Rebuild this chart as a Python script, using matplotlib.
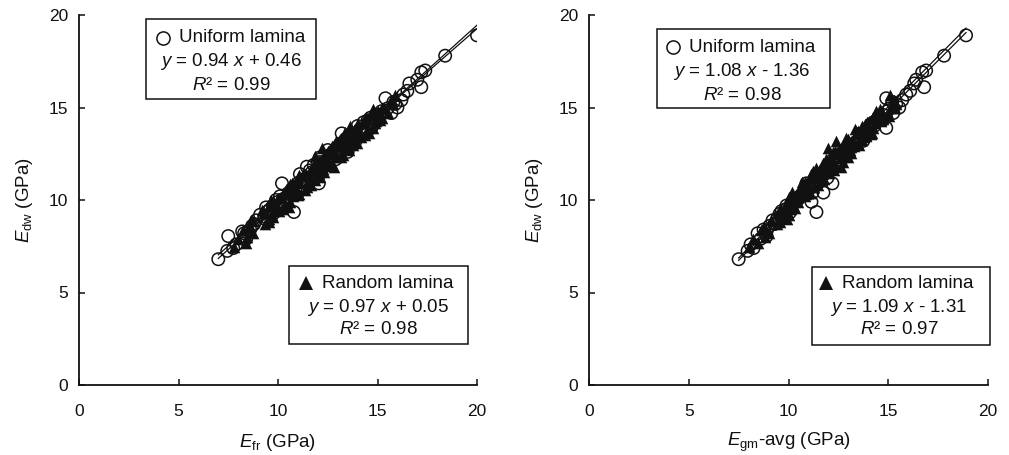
import matplotlib
matplotlib.use("Agg")
import matplotlib.pyplot as plt
from matplotlib.patches import Rectangle
from matplotlib.lines import Line2D
import numpy as np

plt.rcParams['font.family'] = ['Liberation Sans', 'DejaVu Sans']
plt.rcParams['mathtext.fontset'] = 'custom'
plt.rcParams['mathtext.rm'] = 'Liberation Sans'
plt.rcParams['mathtext.it'] = 'Liberation Sans:italic'

# ---------------- data ----------------
# Uniform lamina specimens
edw_uniform = [6.80, 8.05, 7.40, 7.90, 7.25, 7.60, 8.20, 8.90, 8.70, 9.20,
               9.00, 9.40, 9.30, 9.70, 9.90, 10.10, 10.90, 9.35, 10.30, 10.60,
               10.40, 10.80, 11.10, 10.90, 11.80, 11.50, 11.20, 11.70, 12.00, 12.30,
               12.50, 12.20, 12.60, 12.90, 13.10, 13.30, 13.50, 13.20, 13.70, 14.00,
               14.20, 13.90, 14.40, 14.60, 14.80, 14.70, 15.50, 15.20, 15.00, 15.40,
               15.90, 16.10, 16.30, 16.90, 17.00, 17.80, 18.90, 10.00, 9.60, 11.40,
               12.70, 13.60, 8.40, 9.80, 10.20, 11.90, 14.30, 12.40, 10.70, 11.60,
               13.80, 10.40, 9.90, 14.10, 12.80,
               8.60, 9.10, 9.50, 10.05, 10.45, 10.95, 11.25, 11.55, 12.05, 12.35,
               12.85, 13.15, 13.45, 13.95, 14.45, 14.95, 15.30, 11.00, 12.15, 13.40,
               10.75, 9.25, 11.35, 12.65, 14.15, 8.30, 15.70, 16.50, 11.90, 13.00]
efr_uniform = [7.00, 7.50, 7.75, 8.40, 7.45, 7.90, 8.30, 8.90, 8.80, 9.10,
               9.30, 9.50, 9.80, 9.75, 10.00, 10.40, 10.20, 10.80, 10.60, 10.70,
               11.00, 11.20, 11.30, 12.05, 11.45, 11.70, 11.90, 12.20, 12.30, 12.10,
               12.70, 12.90, 13.50, 13.20, 13.60, 13.40, 13.80, 13.90, 14.20, 14.00,
               14.30, 14.70, 14.80, 15.00, 15.20, 15.70, 15.40, 15.90, 16.00, 16.20,
               16.50, 17.20, 16.60, 17.20, 17.40, 18.40, 20.00, 9.90, 9.40, 11.10,
               12.50, 13.20, 8.60, 10.30, 10.10, 12.40, 14.50, 12.60, 10.90, 11.60,
               14.10, 10.55, 10.25, 14.60, 13.00,
               8.70, 9.35, 9.60, 10.25, 10.75, 11.05, 11.60, 11.95, 12.10, 12.75,
               13.35, 13.30, 14.00, 14.40, 14.65, 15.50, 15.80, 11.50, 12.45, 13.70,
               11.15, 9.60, 11.80, 12.95, 14.50, 8.20, 16.30, 17.00, 11.80, 13.10]
egm_uniform = [7.50, 8.90, 8.25, 8.60, 7.95, 8.10, 8.45, 9.20, 9.30, 9.70,
               9.45, 9.65, 10.05, 9.90, 10.35, 10.45, 10.90, 11.40, 10.65, 11.05,
               11.20, 11.30, 11.40, 12.20, 12.05, 11.85, 11.95, 12.15, 12.40, 12.45,
               12.75, 12.60, 13.00, 13.10, 13.35, 13.55, 13.80, 13.75, 13.90, 14.30,
               14.25, 14.90, 14.60, 14.75, 14.95, 15.25, 14.90, 15.40, 15.55, 15.70,
               16.10, 16.80, 16.30, 16.70, 16.90, 17.80, 18.90, 10.25, 10.15, 11.75,
               12.85, 13.70, 8.75, 10.15, 10.60, 12.30, 14.45, 12.90, 11.00, 11.90,
               14.05, 11.75, 11.15, 14.15, 12.95,
               9.05, 9.60, 9.85, 10.50, 10.85, 11.30, 11.60, 11.80, 12.55, 12.70,
               13.00, 13.40, 13.70, 14.05, 14.50, 15.05, 15.20, 11.60, 12.20, 13.60,
               11.20, 9.55, 11.50, 12.75, 14.30, 8.90, 15.90, 16.40, 12.45, 13.25]

# Random lamina specimens
edw_random = [7.45, 7.70, 7.90, 8.20, 8.50, 8.70, 8.90, 9.10, 9.30, 9.50,
              9.70, 9.90, 10.10, 10.30, 10.50, 10.70, 10.90, 11.10, 11.30, 11.50,
              11.70, 11.90, 12.10, 12.30, 12.50, 12.70, 12.90, 13.10, 13.30, 13.50,
              13.70, 13.90, 14.10, 14.30, 14.50, 14.70, 14.90, 15.70, 15.20, 13.20,
              12.80, 14.00, 11.80, 10.60, 9.60, 12.40, 13.60, 11.00, 10.20, 12.00,
              14.40, 11.40, 9.00, 8.40, 13.00, 12.60, 10.80, 14.80, 11.60, 12.20,
              13.40, 10.00, 9.40, 11.20, 12.90, 14.20, 15.00, 13.80,
              8.00, 8.60, 9.20, 9.80, 10.40, 10.95, 11.45, 11.95, 12.45, 12.95,
              13.45, 13.95, 14.45, 12.15, 11.65, 10.15, 9.55, 10.65, 11.25, 12.75,
              13.25, 13.75, 14.25, 14.65, 15.40, 11.85, 10.85, 12.35, 13.65, 9.75,
              11.55, 12.05, 13.15, 14.55, 10.45, 8.80, 12.65, 11.15, 13.85, 14.95,
              12.55, 11.35, 10.55, 13.35, 14.15, 9.45, 12.85, 11.75, 10.25, 13.55]
efr_random = [7.80, 8.40, 8.00, 8.75, 8.50, 9.35, 8.70, 9.75, 9.30, 10.25,
              9.55, 10.60, 10.00, 11.05, 10.40, 11.45, 10.70, 11.85, 11.20, 12.30,
              11.65, 12.70, 12.05, 13.15, 12.40, 13.55, 12.70, 13.95, 13.20, 14.35,
              13.50, 14.75, 14.00, 15.15, 14.40, 15.55, 14.75, 15.90, 15.80, 12.90,
              12.20, 13.60, 12.80, 10.80, 10.55, 11.85, 14.55, 11.05, 10.75, 12.25,
              14.95, 11.35, 9.55, 8.25, 13.75, 12.75, 11.65, 15.05, 12.15, 12.35,
              14.15, 9.65, 10.05, 11.00, 13.30, 14.35, 15.25, 14.45,
              8.45, 8.60, 9.70, 9.75, 10.90, 11.00, 12.05, 11.85, 13.25, 12.90,
              14.10, 13.90, 15.25, 12.15, 12.25, 10.15, 10.00, 10.55, 12.10, 12.60,
              13.80, 13.70, 14.90, 14.65, 15.70, 12.45, 10.60, 12.90, 13.35, 10.40,
              11.70, 12.50, 12.95, 14.95, 10.50, 9.55, 12.50, 11.60, 13.95, 15.35,
              12.80, 11.05, 11.35, 13.50, 14.85, 9.20, 13.50, 11.90, 11.00, 14.00]
egm_random = [8.00, 8.45, 8.20, 9.00, 8.75, 9.40, 9.10, 9.75, 9.45, 10.15,
              9.80, 10.50, 10.25, 10.90, 10.55, 11.30, 10.95, 11.70, 11.25, 11.95,
              11.60, 12.35, 11.95, 12.70, 12.30, 13.10, 12.80, 13.50, 13.00, 13.90,
              13.45, 14.25, 13.85, 14.65, 14.25, 15.00, 14.60, 15.10, 15.40, 12.40,
              12.00, 13.70, 12.65, 10.80, 10.30, 12.15, 14.20, 10.70, 10.85, 11.75,
              14.75, 11.15, 9.90, 8.60, 13.55, 12.25, 11.50, 14.40, 12.30, 11.90,
              13.75, 10.15, 9.90, 11.35, 13.30, 13.95, 15.35, 13.70,
              8.80, 8.75, 10.00, 9.85, 11.10, 10.85, 12.05, 11.85, 12.70, 12.75,
              13.90, 13.80, 14.75, 12.10, 12.10, 10.05, 10.35, 10.75, 11.70, 12.60,
              13.70, 13.50, 14.65, 14.50, 15.30, 12.15, 10.70, 13.00, 13.65, 10.25,
              11.25, 12.75, 13.20, 15.05, 10.20, 9.55, 12.35, 11.80, 13.35, 15.15,
              13.15, 11.40, 11.00, 12.90, 14.35, 9.60, 13.15, 11.40, 10.60, 14.15]

# regression coefficients (slope, intercept, R2)
fit_fr_uniform = (0.94, 0.46, 0.99)
fit_fr_random = (0.97, 0.05, 0.98)
fit_gm_uniform = (1.08, -1.36, 0.98)
fit_gm_random = (1.09, -1.31, 0.97)

ticks = [0, 5, 10, 15, 20]

# ---------------- figure ----------------
W, H = 1009, 455
fig = plt.figure(figsize=(W / 100, H / 100), dpi=100)

def fx(px):
    return px / W

def fy(py):
    return 1 - py / H

ax1 = fig.add_axes([fx(79), fy(385), (477 - 79) / W, (385 - 15) / H])
ax2 = fig.add_axes([fx(589), fy(385), (988 - 589) / W, (385 - 15) / H])

def eq_text(slope, intercept):
    sign = '+' if intercept >= 0 else '-'
    return r'$y$ = %.2f $x$ %s %.2f' % (slope, sign, abs(intercept))

panels = [
    (ax1, efr_uniform, efr_random, fit_fr_uniform, fit_fr_random,
     r'$E_{\mathrm{fr}}$ (GPa)'),
    (ax2, egm_uniform, egm_random, fit_gm_uniform, fit_gm_random,
     r'$E_{\mathrm{gm}}$-avg (GPa)'),
]

INK = '#111111'
for ax, xu, xr, fu, fr, xlabel in panels:
    ax.scatter(xu, edw_uniform, s=80, marker='o', facecolors='none',
               edgecolors=INK, linewidths=1.1, zorder=2)
    ax.scatter(xr, edw_random, s=70, marker='^', color=INK,
               linewidths=0, zorder=3)
    allx = np.array(list(xu) + list(xr))
    xs = np.array([allx.min(), allx.max()])
    for f in (fu, fr):
        ax.plot(xs, f[0] * xs + f[1], color=INK, lw=0.9, zorder=4)

    ax.set_xlim(0, 20)
    ax.set_ylim(0, 20)
    ax.set_xticks(ticks)
    ax.set_yticks(ticks)
    for s in ('top', 'right'):
        ax.spines[s].set_visible(False)
    for s in ('left', 'bottom'):
        ax.spines[s].set_linewidth(1.3)
        ax.spines[s].set_color(INK)
    ax.tick_params(direction='in', length=4, width=1.1, labelsize=12.5,
                   colors=INK)
    ax.tick_params(axis='x', pad=14)
    ax.tick_params(axis='y', pad=8)
    ax.set_xlabel(xlabel, fontsize=13.5, color=INK, va='center')
    ax.set_ylabel(r'$E_{\mathrm{dw}}$ (GPa)', fontsize=13.5, color=INK)
    ax.xaxis.set_label_coords(0.5, -0.155)
    ax.yaxis.set_label_coords(-0.11, 0.5)

# annotation boxes (pixel layout)
boxes = [
    # (box x0, y0, x1, y1, marker x, line y's, center x, marker, title, fit)
    (146, 19, 316, 99, 163, (38, 62, 85), 231, 'o', 'Uniform lamina', fit_fr_uniform),
    (289, 266, 468, 344, 306, (284, 308, 330), 378, '^', 'Random lamina', fit_fr_random),
    (657, 29, 830, 108, 673, (47, 72, 95), 742, 'o', 'Uniform lamina', fit_gm_uniform),
    (812, 267, 990, 345, 826, (284, 308, 330), 899, '^', 'Random lamina', fit_gm_random),
]
for x0, y0, x1, y1, mx, ly, cx, mk, title, fit in boxes:
    fig.patches.append(Rectangle((fx(x0), fy(y1)), (x1 - x0) / W, (y1 - y0) / H,
                                 transform=fig.transFigure, fill=False,
                                 edgecolor=INK, lw=1.1))
    if mk == 'o':
        m = Line2D([fx(mx)], [fy(ly[0])], marker='o', markersize=9.5,
                   markerfacecolor='none', markeredgecolor=INK,
                   markeredgewidth=1.1, transform=fig.transFigure)
    else:
        m = Line2D([fx(mx)], [fy(ly[0]) + 0.002], marker='^', markersize=10,
                   color=INK, markeredgewidth=0, transform=fig.transFigure)
    fig.lines.append(m)
    fig.text(fx(mx + 16), fy(ly[0]), title, fontsize=13.5, va='center', ha='left',
             color=INK)
    fig.text(fx(cx), fy(ly[1]), eq_text(fit[0], fit[1]), fontsize=13.5,
             va='center', ha='center', color=INK)
    fig.text(fx(cx), fy(ly[2]), r'$R$² = %.2f' % fit[2], fontsize=13.5,
             va='center', ha='center', color=INK)

fig.savefig('out.png', dpi=100)
